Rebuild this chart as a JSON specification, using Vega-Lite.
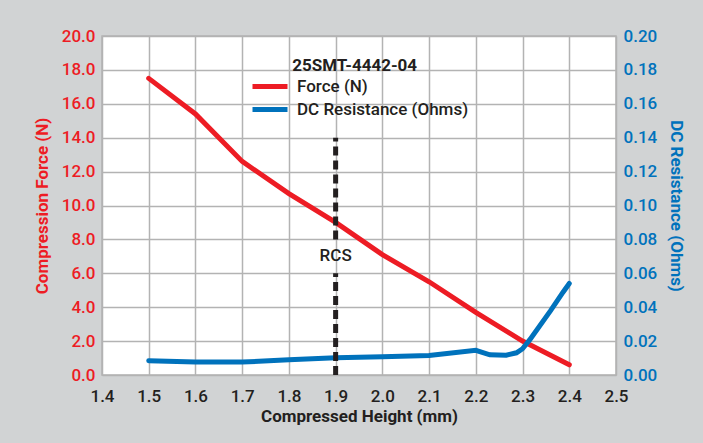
{
  "$schema": "https://vega.github.io/schema/vega-lite/v6.json",
  "width": 514,
  "height": 339,
  "autosize": {"type": "none"},
  "padding": {"left": 102, "top": 36, "right": 87, "bottom": 68},
  "background": "#d1d3d4",
  "config": {
    "font": "Roboto",
    "view": {"fill": "white", "stroke": "#b3b3b3", "strokeWidth": 1.5},
    "axis": {
      "gridColor": "#b3b3b3",
      "gridWidth": 1.5,
      "gridOpacity": 1,
      "ticks": false,
      "domain": false,
      "labelFlush": false,
      "labelOverlap": false,
      "labelFontSize": 17,
      "labelFontWeight": 500,
      "titleFontSize": 17,
      "titleFontWeight": "bold",
      "labelFont": "Roboto",
      "titleFont": "Roboto"
    }
  },
  "datasets": {
    "force": [
      {"height": 1.5, "force": 17.5, "series": "Force (N)"},
      {"height": 1.6, "force": 15.4, "series": "Force (N)"},
      {"height": 1.7, "force": 12.6, "series": "Force (N)"},
      {"height": 1.8, "force": 10.7, "series": "Force (N)"},
      {"height": 1.9, "force": 9.0, "series": "Force (N)"},
      {"height": 2.0, "force": 7.1, "series": "Force (N)"},
      {"height": 2.1, "force": 5.5, "series": "Force (N)"},
      {"height": 2.2, "force": 3.7, "series": "Force (N)"},
      {"height": 2.3, "force": 2.0, "series": "Force (N)"},
      {"height": 2.4, "force": 0.6, "series": "Force (N)"}
    ],
    "res": [
      {"height": 1.5, "resistance": 0.0084, "series": "DC Resistance (Ohms)"},
      {"height": 1.6, "resistance": 0.0077, "series": "DC Resistance (Ohms)"},
      {"height": 1.7, "resistance": 0.0076, "series": "DC Resistance (Ohms)"},
      {"height": 1.8, "resistance": 0.009, "series": "DC Resistance (Ohms)"},
      {"height": 1.9, "resistance": 0.0102, "series": "DC Resistance (Ohms)"},
      {"height": 2.0, "resistance": 0.0107, "series": "DC Resistance (Ohms)"},
      {"height": 2.1, "resistance": 0.0115, "series": "DC Resistance (Ohms)"},
      {"height": 2.2, "resistance": 0.0146, "series": "DC Resistance (Ohms)"},
      {"height": 2.23, "resistance": 0.0119, "series": "DC Resistance (Ohms)"},
      {"height": 2.265, "resistance": 0.0117, "series": "DC Resistance (Ohms)"},
      {"height": 2.287, "resistance": 0.0131, "series": "DC Resistance (Ohms)"},
      {"height": 2.3, "resistance": 0.0155, "series": "DC Resistance (Ohms)"},
      {"height": 2.316, "resistance": 0.021, "series": "DC Resistance (Ohms)"},
      {"height": 2.36, "resistance": 0.038, "series": "DC Resistance (Ohms)"},
      {"height": 2.387, "resistance": 0.049, "series": "DC Resistance (Ohms)"},
      {"height": 2.4, "resistance": 0.054, "series": "DC Resistance (Ohms)"}
    ],
    "rcs": [
      {"height": 1.9, "lo": 0, "hi": 6},
      {"height": 1.9, "lo": 8, "hi": 14}
    ]
  },
  "layer": [
    {
      "data": {"name": "force"},
      "mark": {"type": "line", "strokeWidth": 5, "strokeCap": "round"},
      "encoding": {
        "x": {
          "field": "height",
          "type": "quantitative",
          "scale": {"domain": [1.4, 2.5], "nice": false, "zero": false},
          "axis": {
            "values": [1.4, 1.5, 1.6, 1.7, 1.8, 1.9, 2.0, 2.1, 2.2, 2.3, 2.4, 2.5],
            "format": ".1f",
            "grid": true,
            "title": "Compressed Height (mm)",
            "labelColor": "#231f20",
            "titleColor": "#231f20",
            "labelPadding": 13,
            "titlePadding": 4
          }
        },
        "y": {
          "field": "force",
          "type": "quantitative",
          "scale": {"domain": [0, 20], "nice": false},
          "axis": {
            "orient": "left",
            "values": [0, 2, 4, 6, 8, 10, 12, 14, 16, 18, 20],
            "format": ".1f",
            "grid": true,
            "title": "Compression Force (N)",
            "labelColor": "#ed1c24",
            "titleColor": "#ed1c24",
            "labelPadding": 7,
            "titlePadding": 10
          }
        },
        "color": {
          "field": "series",
          "type": "nominal",
          "scale": {"domain": ["Force (N)", "DC Resistance (Ohms)"], "range": ["#ed1c24", "#0072bc"]},
          "legend": {
            "orient": "none",
            "legendX": 155.5,
            "legendY": 38,
            "title": null,
            "symbolType": "M-1.75,0L1.75,0",
            "symbolStrokeWidth": 5,
            "symbolSize": 400,
            "labelFontSize": 17,
            "labelColor": "#231f20",
            "labelFont": "Roboto",
            "labelFontWeight": 500,
            "labelOffset": 14.5,
            "labelLimit": 400,
            "rowPadding": -5
          }
        }
      }
    },
    {
      "data": {"name": "res"},
      "mark": {"type": "line", "strokeWidth": 5, "strokeCap": "round"},
      "encoding": {
        "x": {"field": "height", "type": "quantitative"},
        "y": {
          "field": "resistance",
          "type": "quantitative",
          "scale": {"domain": [0, 0.2], "nice": false},
          "axis": {
            "orient": "right",
            "values": [0, 0.02, 0.04, 0.06, 0.08, 0.1, 0.12, 0.14, 0.16, 0.18, 0.2],
            "format": ".2f",
            "grid": false,
            "title": "DC Resistance (Ohms)",
            "labelColor": "#0072bc",
            "titleColor": "#0072bc",
            "labelPadding": 7,
            "titlePadding": 10
          }
        },
        "color": {"field": "series", "type": "nominal"}
      }
    },
    {
      "data": {"name": "rcs"},
      "mark": {"type": "rule", "strokeDash": [9, 5], "strokeWidth": 5, "color": "#231f20"},
      "encoding": {
        "x": {"field": "height", "type": "quantitative"},
        "y": {"field": "lo", "type": "quantitative", "scale": {"domain": [0, 20], "nice": false}, "axis": null},
        "y2": {"field": "hi"}
      }
    },
    {
      "data": {"values": [{"label": "RCS"}]},
      "mark": {"type": "text", "fontSize": 17, "fontWeight": 500, "color": "#231f20", "align": "center", "baseline": "middle", "font": "Roboto"},
      "encoding": {
        "x": {"datum": 1.9, "type": "quantitative"},
        "y": {"datum": 7.0, "type": "quantitative", "scale": {"domain": [0, 20], "nice": false}, "axis": null},
        "text": {"field": "label"}
      }
    },
    {
      "data": {"values": [{"label": "25SMT-4442-04"}]},
      "mark": {"type": "text", "fontSize": 17, "fontWeight": "bold", "color": "#231f20", "align": "left", "baseline": "middle", "font": "Roboto"},
      "encoding": {
        "x": {"datum": 1.807, "type": "quantitative"},
        "y": {"datum": 18.25, "type": "quantitative", "scale": {"domain": [0, 20], "nice": false}, "axis": null},
        "text": {"field": "label"}
      }
    }
  ],
  "resolve": {"scale": {"y": "independent"}}
}
